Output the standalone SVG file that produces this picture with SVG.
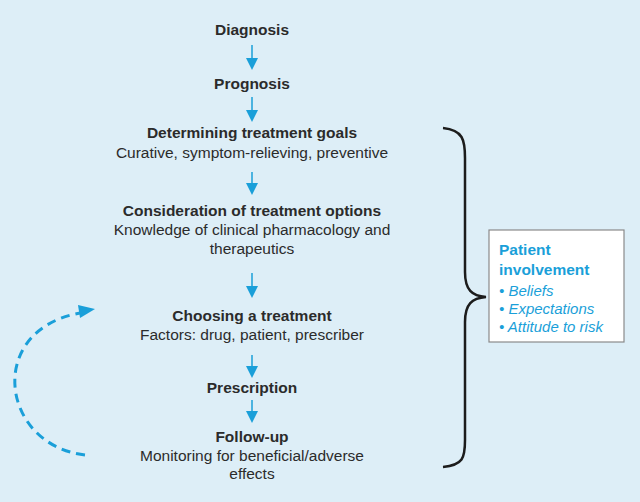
<svg xmlns="http://www.w3.org/2000/svg" width="640" height="502" viewBox="0 0 640 502">
<style>
.t{font-family:"Liberation Sans",Arial,sans-serif;font-size:15.5px;fill:#2b2b2b;text-anchor:middle}
.b{font-weight:bold}
.p{font-family:"Liberation Sans",Arial,sans-serif;fill:#1a9fd9}
.ln{stroke:#1a9fd9;stroke-width:1.5;fill:none}
</style>
<rect width="640" height="502" fill="#ddeef7"/>
<g id="connectors">
<line class="ln" x1="252" y1="45" x2="252" y2="58"/><path d="M246,58 L258,58 L252,70 Z" fill="#1a9fd9"/>
<line class="ln" x1="252" y1="97" x2="252" y2="110"/><path d="M246,110 L258,110 L252,122 Z" fill="#1a9fd9"/>
<line class="ln" x1="252" y1="172" x2="252" y2="183"/><path d="M246,183 L258,183 L252,195 Z" fill="#1a9fd9"/>
<line class="ln" x1="252" y1="273" x2="252" y2="286"/><path d="M246,286 L258,286 L252,298 Z" fill="#1a9fd9"/>
<line class="ln" x1="252" y1="355" x2="252" y2="366"/><path d="M246,366 L258,366 L252,378 Z" fill="#1a9fd9"/>
<line class="ln" x1="252" y1="400" x2="252" y2="411"/><path d="M246,411 L258,411 L252,423 Z" fill="#1a9fd9"/>
<path d="M85,455 C0,445 -15,330 80,313" stroke="#1a9fd9" stroke-width="3" fill="none" stroke-dasharray="9,6"/>
<path d="M78,305 L95,309 L80,318 Z" fill="#1a9fd9"/>
<path d="M443,128 C463,130 465,140 465,158 L465,272 C465,290 472,296 486,297 C472,298 465,304 465,322 L465,440 C465,458 463,465 443,467" stroke="#1c1c1c" stroke-width="2.5" fill="none"/>
</g>
<g id="diagnosis"><text class="t b" x="252" y="35">Diagnosis</text></g>
<g id="prognosis"><text class="t b" x="252" y="89">Prognosis</text></g>
<g id="goals"><text class="t b" x="252" y="138">Determining treatment goals</text><text class="t" x="252" y="158">Curative, symptom-relieving, preventive</text></g>
<g id="options"><text class="t b" x="252" y="216">Consideration of treatment options</text><text class="t" x="252" y="235">Knowledge of clinical pharmacology and</text><text class="t" x="252" y="254">therapeutics</text></g>
<g id="choosing"><text class="t b" x="252" y="321">Choosing a treatment</text><text class="t" x="252" y="340">Factors: drug, patient, prescriber</text></g>
<g id="prescription"><text class="t b" x="252" y="393">Prescription</text></g>
<g id="followup"><text class="t b" x="252" y="442">Follow-up</text><text class="t" x="252" y="461">Monitoring for beneficial/adverse</text><text class="t" x="252" y="479">effects</text></g>
<g id="patient">
<rect x="489" y="230" width="135" height="112" fill="#ffffff" stroke="#8a8a8a" stroke-width="1.2"/>
<text class="p" x="499" y="255" font-size="15.5" font-weight="bold">Patient</text>
<text class="p" x="499" y="275" font-size="15.5" font-weight="bold">involvement</text>
<text class="p" x="499" y="296" font-size="15" font-style="italic">• Beliefs</text>
<text class="p" x="499" y="314" font-size="15" font-style="italic">• Expectations</text>
<text class="p" x="499" y="332" font-size="15" font-style="italic">• Attitude to risk</text>
</g>
</svg>
